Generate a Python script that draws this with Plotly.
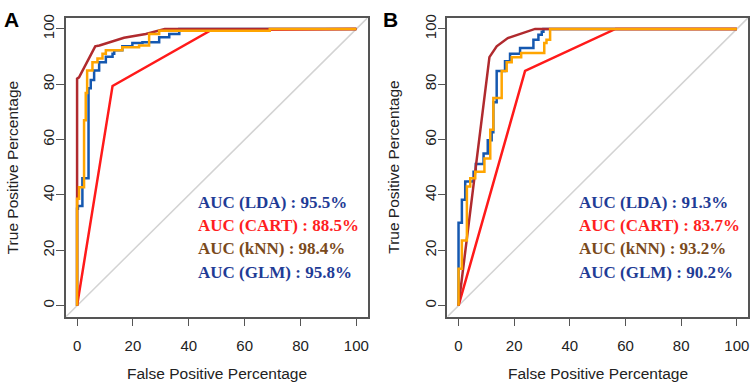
import plotly.graph_objects as go

W, H = 754, 385

# ---------------- data (FPR %, TPR %) ----------------
# Panel A
A_lda_fpr = [0, 0, 0.3, 0.3, 1.9, 1.9, 4.1, 4.1, 4.9, 4.9, 6.1, 6.1, 7.9, 7.9, 10.3, 10.3, 12.7, 12.7, 13.3, 13.3, 16.2, 16.2, 19.8, 19.8, 23.4, 23.4, 29.4, 29.4, 33.0, 33.0, 36.6, 36.6, 100]
A_lda_tpr = [0, 35, 35, 36, 36, 46, 46, 78.6, 78.6, 81.5, 81.5, 85, 85, 88, 88, 89.9, 89.9, 91, 91, 92.3, 92.3, 93.7, 93.7, 94.9, 94.9, 95.2, 95.2, 97, 97, 98.2, 98.2, 100, 100]

A_cart_fpr = [0, 12.7, 48.1, 100]
A_cart_tpr = [0, 79.4, 99.6, 100]

A_knn_fpr = [0, 0, 0.7, 6.5, 8.0, 11.5, 16.8, 24.6, 31.4, 100]
A_knn_tpr = [0, 82, 82.5, 93.7, 94.0, 95.2, 96.8, 98.2, 100, 100]

A_glm_fpr = [0, 0, 0.7, 0.7, 2.5, 2.5, 3.1, 3.1, 3.6, 3.6, 5.5, 5.5, 7.3, 7.3, 9.1, 9.1, 10.3, 10.3, 16.2, 16.2, 22.2, 22.2, 25.8, 25.8, 29.4, 29.4, 69, 69, 100]
A_glm_tpr = [0, 38.6, 38.6, 42.8, 42.8, 67, 67, 76.8, 76.8, 85, 85, 88, 88, 89.3, 89.3, 91, 91, 92.3, 92.3, 93.4, 93.4, 94.0, 94.0, 98.2, 98.2, 99.3, 99.3, 100, 100]

# Panel B
B_lda_fpr = [0, 0, 1.2, 1.2, 2.4, 2.4, 5.4, 5.4, 6.2, 6.2, 9.0, 9.0, 10.5, 10.5, 11.9, 11.9, 12.5, 12.5, 13.7, 13.7, 16.7, 16.7, 18.5, 18.5, 22.1, 22.1, 26.9, 26.9, 28.7, 28.7, 29.9, 29.9, 30.5, 30.5, 100]
B_lda_tpr = [0, 30, 30, 38.3, 38.3, 44.9, 44.9, 48.4, 48.4, 51.2, 51.2, 55, 55, 59.8, 59.8, 62.7, 62.7, 73.5, 73.5, 84.8, 84.8, 88.3, 88.3, 91.0, 91.0, 93.1, 93.1, 96.1, 96.1, 97.9, 97.9, 99, 99, 100, 100]

B_cart_fpr = [0, 23.9, 56.4, 100]
B_cart_tpr = [0, 84.8, 100, 100]

B_knn_fpr = [0, 11.1, 13.7, 17.7, 27.5, 100]
B_knn_tpr = [0, 89.8, 93.7, 96.7, 100, 100]

B_glm_fpr = [0, 0, 1.2, 1.2, 3.0, 3.0, 4.2, 4.2, 6.0, 6.0, 9.3, 9.3, 11.4, 11.4, 12.5, 12.5, 15.5, 15.5, 17.3, 17.3, 19.1, 19.1, 22.5, 22.5, 30.8, 30.8, 31.6, 31.6, 32.9, 32.9, 100]
B_glm_tpr = [0, 13.3, 13.3, 23.5, 23.5, 43.1, 43.1, 46, 46, 48.4, 48.4, 53.2, 53.2, 63.6, 63.6, 75, 75, 84.8, 84.8, 88.0, 88.0, 89.8, 89.8, 91.3, 91.3, 94.9, 94.9, 96.1, 96.1, 100, 100]

model_names = ["LDA", "CART", "kNN", "GLM"]
A_auc = ["95.5%", "88.5%", "98.4%", "95.8%"]
B_auc = ["91.3%", "83.7%", "93.2%", "90.2%"]
tick_vals = [0, 20, 40, 60, 80, 100]
axis_range = [-4, 104]

# ---------------- styles ----------------
curve_colors = {"LDA": "#1558b0", "CART": "#ff1a1a", "kNN": "#b02a2e", "GLM": "#ffa500"}
text_colors = {"LDA": "#1f3c96", "CART": "#ff1f1f", "kNN": "#7a4a1c", "GLM": "#1f3c96"}

fig = go.Figure()

panels = [
    ("x", "y", {"LDA": (A_lda_fpr, A_lda_tpr), "CART": (A_cart_fpr, A_cart_tpr),
                "kNN": (A_knn_fpr, A_knn_tpr), "GLM": (A_glm_fpr, A_glm_tpr)}, A_auc),
    ("x2", "y2", {"LDA": (B_lda_fpr, B_lda_tpr), "CART": (B_cart_fpr, B_cart_tpr),
                  "kNN": (B_knn_fpr, B_knn_tpr), "GLM": (B_glm_fpr, B_glm_tpr)}, B_auc),
]

shapes = []
annotations = []
for xr, yr, curves, aucs in panels:
    shapes.append(dict(type="line", xref=xr, yref=yr, x0=axis_range[0], y0=axis_range[0],
                       x1=axis_range[1], y1=axis_range[1], line=dict(color="#d3d3d3", width=1.5), layer="below"))
    for name in model_names:
        fx, ty = curves[name]
        fig.add_trace(go.Scatter(x=fx, y=ty, mode="lines", xaxis=xr, yaxis=yr,
                                 line=dict(color=curve_colors[name], width=2.5), showlegend=False,
                                 name=name))
    for i, name in enumerate(model_names):
        annotations.append(dict(xref=xr, yref=yr, x=42.7, y=37.3 - i * 8.4, xanchor="left", yanchor="middle",
                                text=f"<b>AUC ({name}) : {aucs[i]}</b>", showarrow=False,
                                font=dict(family="Liberation Serif", size=17, color=text_colors[name])))

axis_common = dict(range=axis_range, showgrid=False, zeroline=False, showline=True, mirror=True,
                   linecolor="#555555", linewidth=1.5, ticks="outside", ticklen=8, tickwidth=1.3,
                   tickcolor="#555555", tickvals=tick_vals,
                   tickfont=dict(family="Liberation Sans", size=15, color="#222222"))

ybot, ytop = 1 - 316 / H, 1 - 14 / H
fig.update_layout(
    width=W, height=H, margin=dict(l=0, r=0, t=0, b=0),
    paper_bgcolor="white", plot_bgcolor="white",
    xaxis=dict(domain=[66 / W, 368 / W], anchor="y", ticklabelstandoff=7, **axis_common),
    yaxis=dict(domain=[ybot, ytop], anchor="x", tickangle=-90, ticklabelstandoff=-4, **axis_common),
    xaxis2=dict(domain=[448 / W, 749 / W], anchor="y2", ticklabelstandoff=7, **axis_common),
    yaxis2=dict(domain=[ybot, ytop], anchor="x2", tickangle=-90, ticklabelstandoff=-4, **axis_common),
    shapes=shapes,
)

title_font = dict(family="Liberation Sans", size=15.5, color="#222222")
for cx, lbl, ycx in [(217, "A", 12), (598.5, "B", 394)]:
    annotations.append(dict(xref="paper", yref="paper", x=cx / W, y=1 - 373 / H, xanchor="center",
                            yanchor="middle", text="False Positive Percentage", showarrow=False, font=title_font))
    annotations.append(dict(xref="paper", yref="paper", x=ycx / W, y=1 - 165 / H, xanchor="center",
                            yanchor="middle", text="True Positive Percentage", textangle=-90,
                            showarrow=False, font=title_font))
annotations.append(dict(xref="paper", yref="paper", x=2 / W, y=1 - 2 / H, xanchor="left", yanchor="top",
                        text="<b>A</b>", showarrow=False, font=dict(family="Liberation Sans", size=21, color="black")))
annotations.append(dict(xref="paper", yref="paper", x=382 / W, y=1 - 2 / H, xanchor="left", yanchor="top",
                        text="<b>B</b>", showarrow=False, font=dict(family="Liberation Sans", size=21, color="black")))
fig.update_layout(annotations=annotations)

fig.write_html("out.html", config={"displayModeBar": False},
               post_script="document.body.style.margin='0';document.body.style.overflow='hidden';")
